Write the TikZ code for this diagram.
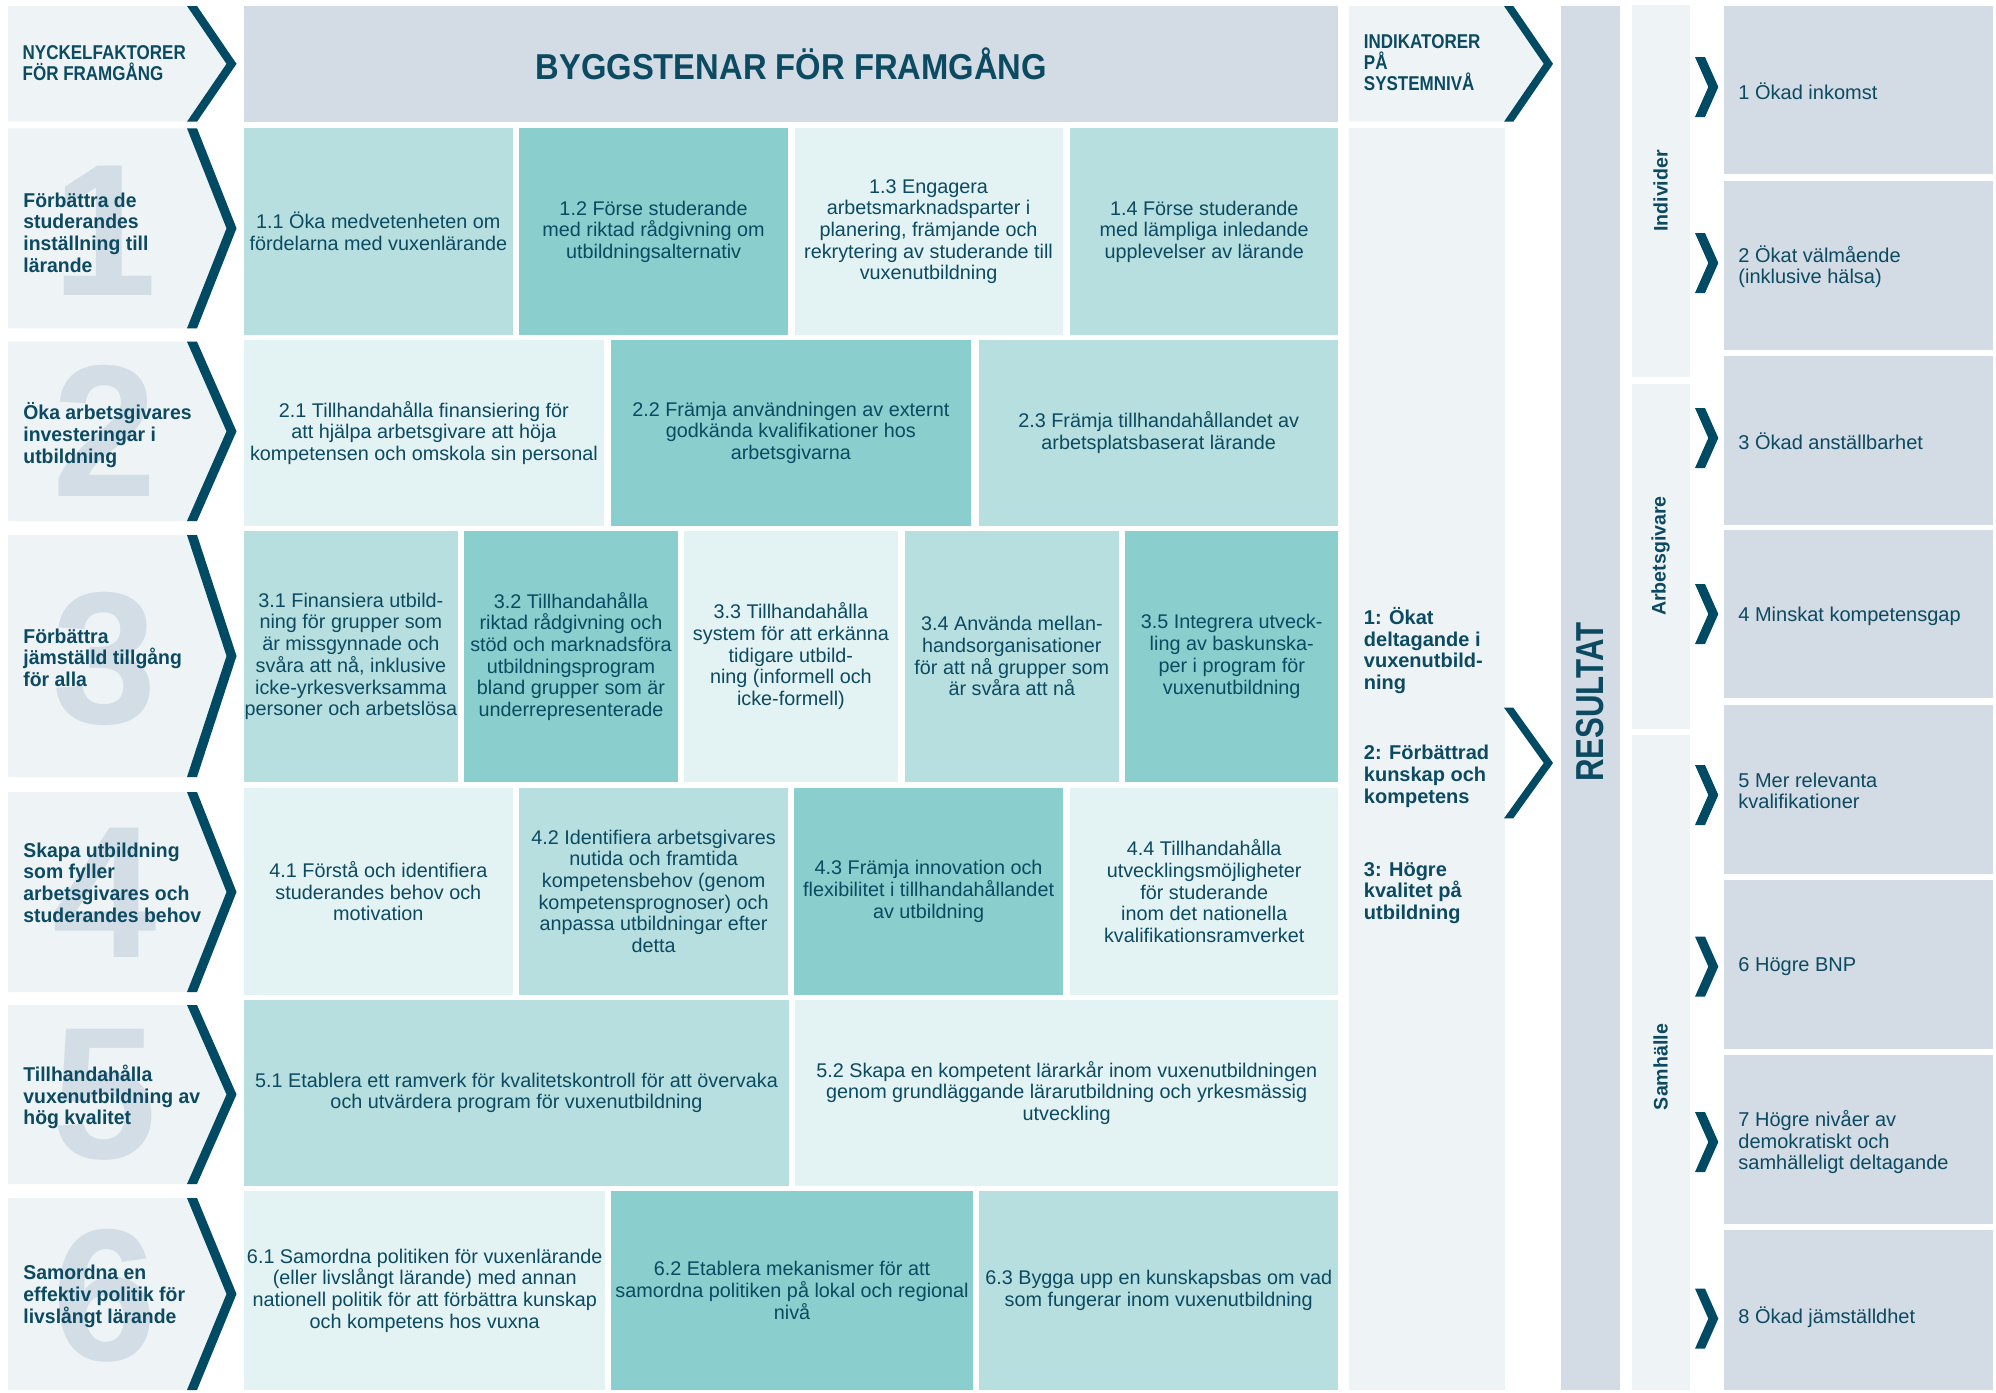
\documentclass[tikz,border=0pt]{standalone}
\usepackage{fontspec}
\setmainfont{Liberation Sans}
\newfontfamily\hdfont[FakeStretch=0.85]{Liberation Sans}
\newfontfamily\titlefont[FakeStretch=0.91]{Liberation Sans}
\newfontfamily\resfont[FakeStretch=0.8]{Liberation Sans}
\newfontfamily\labfont[FakeStretch=0.97]{Liberation Sans}
\definecolor{lightbg}{HTML}{EEF3F6}
\definecolor{greyb}{HTML}{D3DBE4}
\definecolor{numc}{HTML}{D2DDE6}
\definecolor{tl}{HTML}{E3F2F2}
\definecolor{tm}{HTML}{B7DFDF}
\definecolor{td}{HTML}{8ACECD}
\definecolor{chev}{HTML}{004A64}
\definecolor{txt}{HTML}{0B4A61}
\newcommand\mkcell[7]{%
  \pgfmathsetmacro\cellCX{(#2+#4)/2}%
  \pgfmathsetmacro\cellCY{(#3+#5)/2}%
  \pgfmathsetmacro\cellW{(#4-#2)/2}%
  \pgfmathsetmacro\cellH{(#5-#3)/2}%
  \node[cell, fill=#6, minimum width=\cellW pt, minimum height=\cellH pt] (#1) at (\cellCX,\cellCY) {#7};}
\newcommand\mkrow[7]{%
  \pgfmathsetmacro\rowM{(#2+#3)/2}%
  \fill[lightbg] (8,#2) -- (197,#2) -- (236.5,\rowM) -- (197,#3) -- (8,#3) -- cycle;
  \fill[chev] (187,#2) -- (197,#2) -- (236.5,\rowM) -- (197,#3) -- (187,#3) -- (226.5,\rowM) -- cycle;
  \node[num] (#1n) at (105,#5) {#4};
  \node[lbl, font=\labfont\fontsize{10}{10.85}\selectfont\bfseries] (#1) at (23,#6) {#7};}
\newcommand\smallchev[1]{%
  \fill[chev] (1695,#1-30) -- (1705,#1-30) -- (1718.3,#1) -- (1705,#1+30) -- (1695,#1+30) -- (1708.3,#1) -- cycle;}
\begin{document}
\begin{tikzpicture}[x=0.5pt,y=-0.5pt,
  cell/.style={inner sep=0pt, outer sep=0pt, align=center, text=txt, font=\fontsize{9.9}{10.85}\selectfont},
  lbl/.style={anchor=west, inner sep=0pt, align=left, text=txt, font=\fontsize{10}{10.85}\selectfont\bfseries},
  num/.style={inner sep=0pt, text=numc, font=\fontsize{94}{94}\selectfont\bfseries},
  outc/.style={anchor=west, inner sep=0pt, align=left, text=txt, font=\fontsize{10}{10.6}\selectfont},
  side/.style={inner sep=0pt, rotate=90, text=txt, font=\fontsize{9.8}{10}\selectfont\bfseries}]
\useasboundingbox[fill=white] (0,0) rectangle (1996,1392);

% header left
\fill[lightbg] (8,6) -- (197,6) -- (236.5,63.85) -- (197,121.7) -- (8,121.7) -- cycle;
\fill[chev] (187,6) -- (197,6) -- (236.5,63.85) -- (197,121.7) -- (187,121.7) -- (226.5,63.85) -- cycle;
\node[lbl, font=\fontsize{10}{10.85}\selectfont\hdfont\bfseries] (hdleft) at (22.3,63.2) {NYCKELFAKTORER\\FÖR FRAMGÅNG};

\mkcell{head}{244.2}{6}{1338.4}{121.7}{greyb}{{\titlefont\fontsize{18}{18}\selectfont\bfseries BYGGSTENAR FÖR FRAMGÅNG}}

% indicator header
\fill[lightbg] (1349,6) -- (1513.3,6) -- (1553,63.85) -- (1513.3,121.7) -- (1349,121.7) -- cycle;
\fill[chev] (1504,6) -- (1513.3,6) -- (1553,63.85) -- (1513.3,121.7) -- (1504,121.7) -- (1543.7,63.85) -- cycle;
\node[lbl, font=\fontsize{10}{10.4}\selectfont\hdfont\bfseries] (hdind) at (1363.5,62.4) {INDIKATORER\\PÅ\\SYSTEMNIVÅ};

% rows left
\mkrow{r1}{128.3}{328.3}{1}{231}{232.6}{Förbättra de\\studerandes\\inställning till\\lärande}
\mkrow{r2}{341.7}{521}{2}{431}{435}{Öka arbetsgivares\\investeringar i\\utbildning}
\mkrow{r3}{535}{777}{3}{659}{657.8}{Förbättra\\jämställd tillgång\\för alla}
\mkrow{r4}{792}{992}{4}{893}{882.4}{Skapa utbildning\\som fyller\\arbetsgivares och\\studerandes behov}
\mkrow{r5}{1005}{1184}{5}{1095}{1097}{Tillhandahålla\\vuxenutbildning av\\hög kvalitet}
\mkrow{r6}{1198}{1390}{6}{1296}{1296.5}{Samordna en\\effektiv politik för\\livslångt lärande}

% row 1 cells
\mkcell{c11}{244.2}{128.3}{512.5}{335}{tm}{1.1 Öka medvetenheten om\\fördelarna med vuxenlärande}
\mkcell{c12}{519.2}{128.3}{788}{335}{td}{1.2 Förse studerande\\med riktad rådgivning om\\utbildningsalternativ}
\mkcell{c13}{794.6}{128.3}{1062.5}{335}{tl}{1.3 Engagera\\arbetsmarknadsparter i\\planering, främjande och\\rekrytering av studerande till\\vuxenutbildning}
\mkcell{c14}{1070}{128.3}{1338.4}{335}{tm}{1.4 Förse studerande\\med lämpliga inledande\\upplevelser av lärande}
% row 2
\mkcell{c21}{244.2}{340}{603.6}{525.7}{tl}{2.1 Tillhandahålla finansiering för\\att hjälpa arbetsgivare att höja\\kompetensen och omskola sin personal}
\mkcell{c22}{610.7}{340}{971}{525.7}{td}{2.2 Främja användningen av externt\\godkända kvalifikationer hos\\arbetsgivarna}
\mkcell{c23}{979}{340}{1338.4}{525.7}{tm}{2.3 Främja tillhandahållandet av\\arbetsplatsbaserat lärande}
% row 3
\mkcell{c31}{244.2}{531}{457.6}{781.7}{tm}{3.1 Finansiera utbild-\\ning för grupper som\\är missgynnade och\\svåra att nå, inklusive\\icke-yrkesverksamma\\personer och arbetslösa}
\mkcell{c32}{464.3}{531}{677.7}{781.7}{td}{3.2 Tillhandahålla\\riktad rådgivning och\\stöd och marknadsföra\\utbildningsprogram\\bland grupper som är\\underrepresenterade}
\mkcell{c33}{684}{531}{897.8}{781.7}{tl}{3.3 Tillhandahålla\\system för att erkänna\\tidigare utbild-\\ning (informell och\\icke-formell)}
\mkcell{c34}{905}{531}{1118.7}{781.7}{tm}{3.4 Använda mellan-\\handsorganisationer\\för att nå grupper som\\är svåra att nå}
\mkcell{c35}{1125}{531}{1338.4}{781.7}{td}{3.5 Integrera utveck-\\ling av baskunska-\\per i program för\\vuxenutbildning}
% row 4
\mkcell{c41}{244.2}{787.8}{512.5}{994.7}{tl}{4.1 Förstå och identifiera\\studerandes behov och\\motivation}
\mkcell{c42}{519.2}{787.8}{788}{994.7}{tm}{4.2 Identifiera arbetsgivares\\nutida och framtida\\kompetensbehov (genom\\kompetensprognoser) och\\anpassa utbildningar efter\\detta}
\mkcell{c43}{794.2}{787.8}{1063}{994.7}{td}{4.3 Främja innovation och\\flexibilitet i tillhandahållandet\\av utbildning}
\mkcell{c44}{1070}{787.8}{1338.4}{994.7}{tl}{4.4 Tillhandahålla\\utvecklingsmöjligheter\\för studerande\\inom det nationella\\kvalifikationsramverket}
% row 5
\mkcell{c51}{244.2}{999.7}{788.8}{1186}{tm}{5.1 Etablera ett ramverk för kvalitetskontroll för att övervaka\\och utvärdera program för vuxenutbildning}
\mkcell{c52}{795}{999.7}{1338.4}{1186}{tl}{5.2 Skapa en kompetent lärarkår inom vuxenutbildningen\\genom grundläggande lärarutbildning och yrkesmässig\\utveckling}
% row 6
\mkcell{c61}{244.2}{1191}{605.3}{1390}{tl}{6.1 Samordna politiken för vuxenlärande\\(eller livslångt lärande) med annan\\nationell politik för att förbättra kunskap\\och kompetens hos vuxna}
\mkcell{c62}{611}{1191}{973}{1390}{td}{6.2 Etablera mekanismer för att\\samordna politiken på lokal och regional\\nivå}
\mkcell{c63}{979}{1191}{1338.4}{1390}{tm}{6.3 Bygga upp en kunskapsbas om vad\\som fungerar inom vuxenutbildning}

% indicator column
\mkcell{indcol}{1349}{127.7}{1505}{1390}{lightbg}{}
\node[lbl] (ind1) at (1363.5,650.5) {1: Ökat\\deltagande i\\vuxenutbild-\\ning};
\node[lbl] (ind2) at (1363.5,776.3) {2: Förbättrad\\kunskap och\\kompetens};
\node[lbl] (ind3) at (1363.5,893) {3: Högre\\kvalitet på\\utbildning};
\fill[chev] (1504,707.7) -- (1513.3,707.7) -- (1553,763) -- (1513.3,818.3) -- (1504,818.3) -- (1543.7,763) -- cycle;

% resultat bar
\mkcell{res}{1561}{6}{1619.5}{1390}{greyb}{}
\node[inner sep=0pt, rotate=90, text=txt, font=\resfont\fontsize{19.5}{20}\selectfont\bfseries] (restext) at (1590.5,702) {RESULTAT};

% group bars
\mkcell{gind}{1631.5}{5}{1690}{376.7}{lightbg}{}
\mkcell{garb}{1631.5}{384}{1690}{728.5}{lightbg}{}
\mkcell{gsam}{1631.5}{735}{1690}{1390}{lightbg}{}
\node[side] (gindt) at (1660.5,191) {Individer};
\node[side] (garbt) at (1660.5,556) {Arbetsgivare};
\node[side] (gsamt) at (1660.5,1067) {Samhälle};

% outcome boxes
\mkcell{o1}{1724}{6}{1992.5}{174}{greyb}{}
\mkcell{o2}{1724}{181}{1992.5}{350}{greyb}{}
\mkcell{o3}{1724}{356}{1992.5}{525}{greyb}{}
\mkcell{o4}{1724}{530}{1992.5}{698}{greyb}{}
\mkcell{o5}{1724}{705}{1992.5}{874}{greyb}{}
\mkcell{o6}{1724}{880}{1992.5}{1048.5}{greyb}{}
\mkcell{o7}{1724}{1055}{1992.5}{1224}{greyb}{}
\mkcell{o8}{1724}{1230}{1992.5}{1390}{greyb}{}
\smallchev{87}
\smallchev{263}
\smallchev{438}
\smallchev{614}
\smallchev{795}
\smallchev{966.6}
\smallchev{1142}
\smallchev{1318.6}
\node[outc] (o1t) at (1738,91.7) {1 Ökad inkomst};
\node[outc] (o2t) at (1738,267) {2 Ökat välmående\\(inklusive hälsa)};
\node[outc] (o3t) at (1738,441.7) {3 Ökad anställbarhet};
\node[outc] (o4t) at (1738,616) {4 Minskat kompetensgap};
\node[outc] (o5t) at (1738,790.7) {5 Mer relevanta\\kvalifikationer};
\node[outc] (o6t) at (1738,967) {6 Högre BNP};
\node[outc] (o7t) at (1738,1142) {7 Högre nivåer av\\demokratiskt och\\samhälleligt deltagande};
\node[outc] (o8t) at (1738,1316.7) {8 Ökad jämställdhet};
\end{tikzpicture}
\end{document}
